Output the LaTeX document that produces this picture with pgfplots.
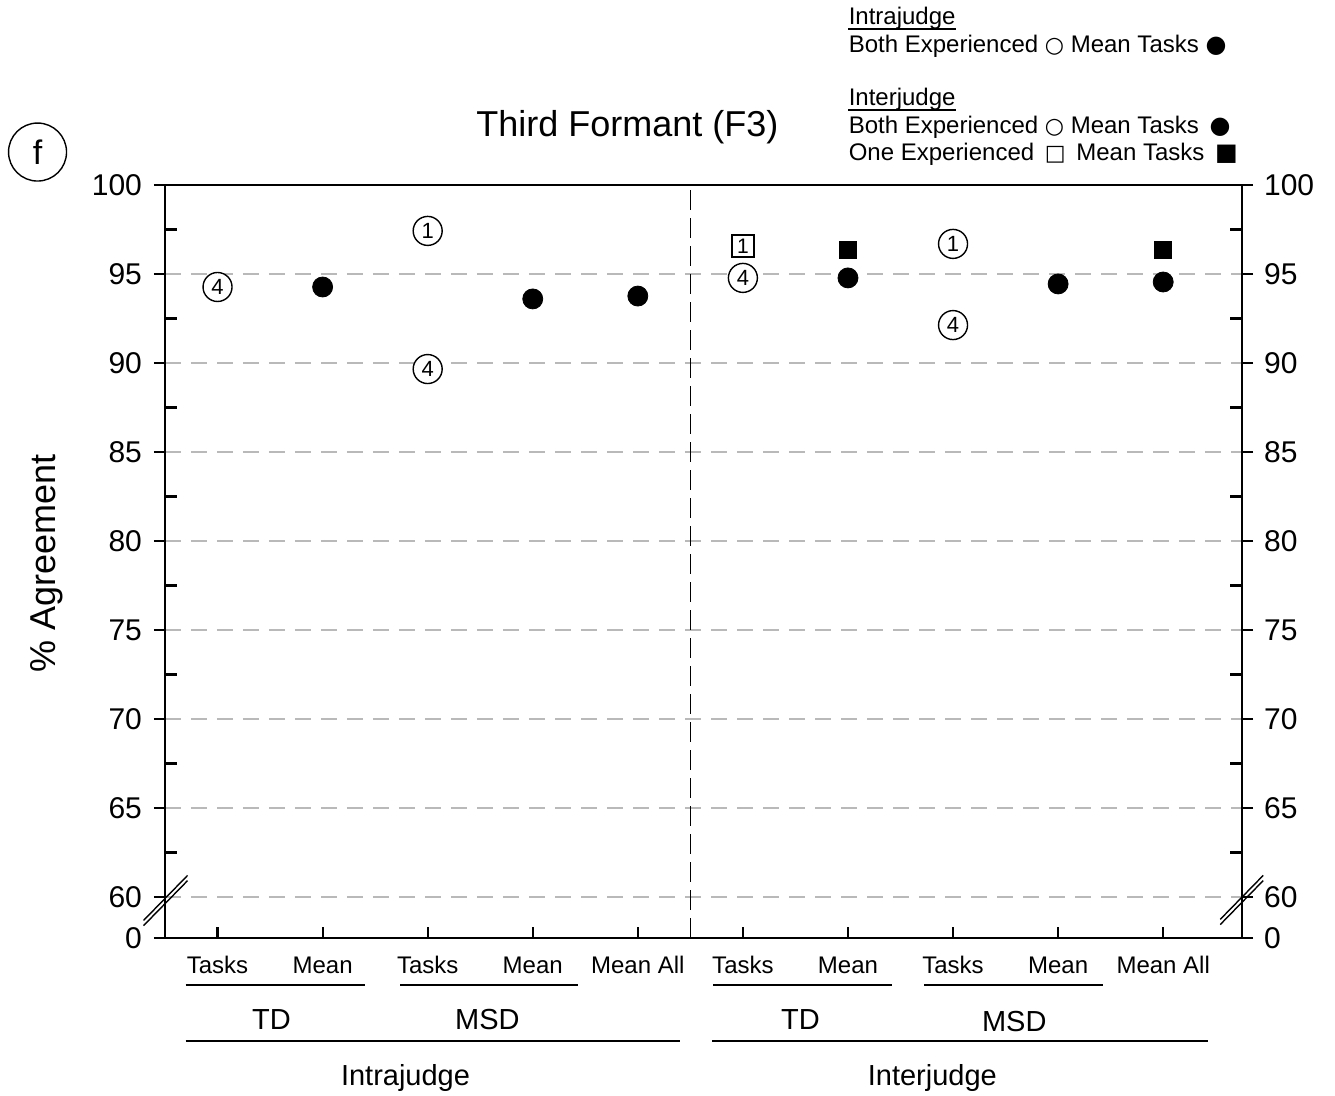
\documentclass[border=0pt]{standalone}
\usepackage{pgfplots}
\pgfplotsset{compat=1.18}
\usepackage{fontspec}
\setmainfont{Liberation Sans}
\newfontfamily\sym{DejaVu Sans}
\usetikzlibrary{calc}
\newcommand{\fsz}[1]{\fontsize{#1}{#1}\selectfont}
\definecolor{gridgray}{RGB}{185,185,185}
\pgfplotsset{
  common/.style={
    width=538.5pt, height=376.5pt, scale only axis,
    xmin=0.5, xmax=10.75, ymin=57.7, ymax=100,
    clip=false,
    axis line style={line width=1.1pt, black},
    tick style={line width=1.1pt, black},
    /pgf/number format/assume math mode=true,
  }
}
\begin{document}
\begin{tikzpicture}
% main axis
\begin{axis}[common,
  xtick={1,...,10},
  xticklabels={Tasks,Mean,Tasks,Mean,Mean All,Tasks,Mean,Tasks,Mean,Mean All},
  xtick pos=bottom, xtick align=inside,
  x tick label style={font=\fsz{12}, yshift=-5pt, text height=9pt, text depth=2pt},
  ytick={57.7,60,65,70,75,80,85,90,95,100},
  yticklabels={0,60,65,70,75,80,85,90,95,100},
  ytick pos=left, ytick align=outside,
  y tick label style={font=\fsz{15}, xshift=-2.5pt},
  major tick length=5.5pt,
  ymajorgrids,
  grid style={gridgray, line width=1pt, dash pattern=on 8pt off 5pt},
]
\coordinate (BL) at (rel axis cs:0,0);
\coordinate (TR) at (rel axis cs:1,1);
% separator
\draw[black, line width=0.8pt, dash pattern=on 10pt off 4pt] (axis cs:5.5,57.7) -- (axis cs:5.5,100);
% break marks
\draw[line width=0.7pt] ([yshift=1.3pt]axis cs:0.296,58.54) -- ([yshift=1.3pt]axis cs:0.715,61.07);
\draw[line width=0.7pt] ([yshift=-1.3pt]axis cs:0.296,58.54) -- ([yshift=-1.3pt]axis cs:0.715,61.07);
\draw[line width=0.7pt] ([yshift=1.3pt]axis cs:10.543,58.60) -- ([yshift=1.3pt]axis cs:10.952,61.07);
\draw[line width=0.7pt] ([yshift=-1.3pt]axis cs:10.543,58.60) -- ([yshift=-1.3pt]axis cs:10.952,61.07);

% filled circles (mean tasks)
\addplot[only marks, mark=*, mark size=5pt, black] coordinates {
  (2,94.27) (4,93.60) (5,93.76) (7,94.78) (9,94.44) (10,94.55)};
% filled squares (one experienced, mean tasks)
\addplot[only marks, mark=square*, mark size=4.3pt, black] coordinates {
  (7,96.35) (10,96.35)};
% numbered open circles
\addplot[only marks, mark=none, point meta=explicit symbolic,
  nodes near coords, nodes near coords align={anchor=center},
  every node near coord/.append style={circle, draw=black, fill=white, line width=0.7pt,
    inner sep=0pt, minimum size=14.5pt, font=\fsz{11}, text=black, anchor=center}]
  table[meta=lab] {
x y lab
1 94.27 4
3 97.42 1
3 89.66 4
6 94.78 4
8 96.69 1
8 92.13 4
};
% numbered open square
\addplot[only marks, mark=none, point meta=explicit symbolic,
  nodes near coords, nodes near coords align={anchor=center},
  every node near coord/.append style={rectangle, draw=black, fill=white, line width=0.7pt,
    inner sep=0pt, minimum size=11pt, font=\fsz{10.5}, text=black, anchor=center}]
  table[meta=lab] {
x y lab
6 96.57 1
};

% group annotations
\draw[line width=0.7pt] (axis cs:0.696,55.06) -- (axis cs:2.399,55.06);
\draw[line width=0.7pt] (axis cs:2.741,55.06) -- (axis cs:4.435,55.06);
\draw[line width=0.7pt] (axis cs:5.719,55.06) -- (axis cs:7.422,55.06);
\draw[line width=0.7pt] (axis cs:7.727,55.06) -- (axis cs:9.430,55.06);
\draw[line width=0.7pt] (axis cs:0.696,51.91) -- (axis cs:5.405,51.91);
\draw[line width=0.7pt] (axis cs:5.710,51.91) -- (axis cs:10.429,51.91);
\node[anchor=base, font=\fsz{14.5}] at (axis cs:1.514,52.58) {TD};
\node[anchor=base, font=\fsz{14.5}] at (axis cs:3.569,52.58) {MSD};
\node[anchor=base, font=\fsz{14.5}] at (axis cs:6.547,52.58) {TD};
\node[anchor=base, font=\fsz{14.5}] at (axis cs:8.583,52.42) {MSD};
\node[anchor=base, font=\fsz{14.5}] at (axis cs:2.789,49.44) {Intrajudge};
\node[anchor=base, font=\fsz{14.5}] at (axis cs:7.803,49.44) {Interjudge};

% y label
\node[rotate=90, font=\fsz{18}] at (axis cs:-0.63,78.76) {\% Agreement};
% title
\node[anchor=base, font=\fsz{18}] at (axis cs:4.90,102.70) {Third Formant (F3)};
% panel letter
\node[circle, draw, line width=0.7pt, minimum size=29pt, inner sep=0pt, font=\fsz{17}] at (axis cs:-0.713,101.85) {f};

% legend
\begin{scope}[every node/.style={anchor=base west, font=\fsz{12}, inner xsep=0pt}]
\node (L1) at (axis cs:7.004,108.99) {Intrajudge};
\draw[line width=0.6pt] ([yshift=-2pt]L1.base west) -- ([yshift=-2pt]L1.base east);
\node at (axis cs:7.004,107.47) {Both Experienced {\sym\fsz{11}○} Mean Tasks {\sym ●}};
\node (L3) at (axis cs:7.004,104.44) {Interjudge};
\draw[line width=0.6pt] ([yshift=-2pt]L3.base west) -- ([yshift=-2pt]L3.base east);
\node at (axis cs:7.004,102.92) {Both Experienced {\sym\fsz{11}○} Mean Tasks \,{\sym ●}};
\node at (axis cs:7.004,101.40) {One Experienced \,{\sym\fsz{11}□}\, Mean Tasks \,{\sym ■}};
\end{scope}
\end{axis}

% right axis labels
\begin{axis}[common, hide x axis, axis y line*=right,
  ytick={57.7,60,65,70,75,80,85,90,95,100},
  yticklabels={0,60,65,70,75,80,85,90,95,100},
  ytick align=outside, major tick length=5.5pt,
  y tick label style={font=\fsz{15}, xshift=2pt},
]
\end{axis}

% minor inward ticks on both sides
\begin{axis}[common, hide x axis,
  ytick={62.5,67.5,72.5,77.5,82.5,87.5,92.5,97.5},
  yticklabel=\empty,
  ytick pos=both, ytick align=inside, major tick length=6pt,
]
\end{axis}

\pgfresetboundingbox
\path ($(BL)+(-82.5pt,-79pt)$) rectangle ($(TR)+(46.5pt,92.5pt)$);
\end{tikzpicture}
\end{document}
